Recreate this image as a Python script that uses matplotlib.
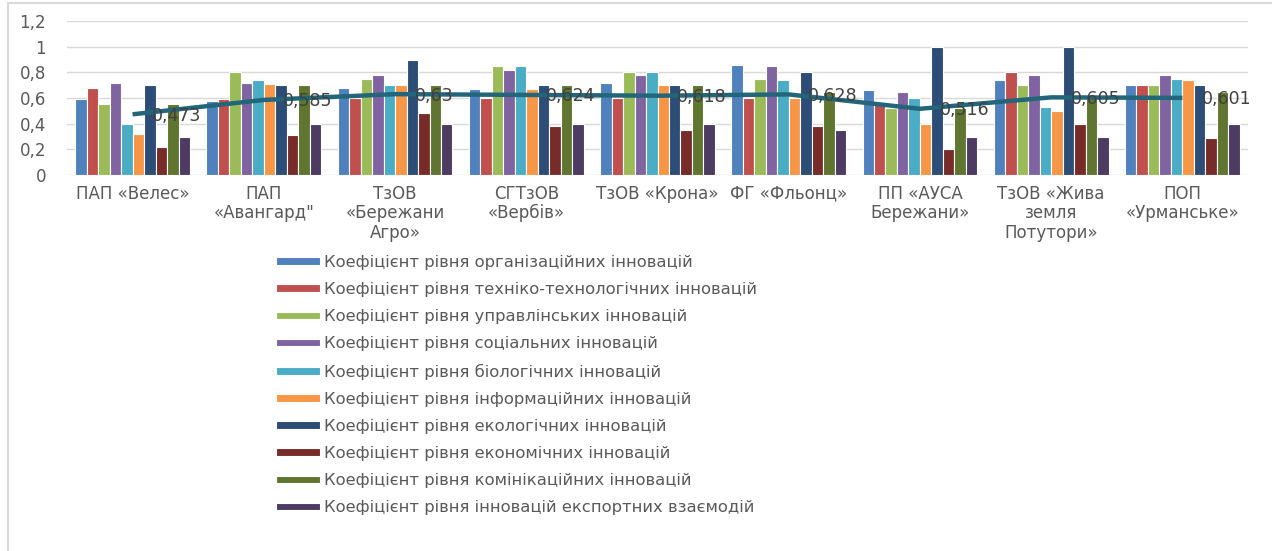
import numpy as np
import matplotlib.pyplot as plt
from matplotlib.patches import Rectangle
from matplotlib.ticker import FuncFormatter

companies = ['ПАП «Велес»', 'ПАП\n«Авангард"', 'ТзОВ\n«Бережани\nАгро»',
             'СГТзОВ\n«Вербів»', 'ТзОВ «Крона»', 'ФГ «Фльонц»',
             'ПП «АУСА\nБережани»', 'ТзОВ «Жива\nземля\nПотутори»', 'ПОП\n«Урманське»']

series_names = [
    'Коефіцієнт рівня організаційних інновацій',
    'Коефіцієнт рівня техніко-технологічних інновацій',
    'Коефіцієнт рівня управлінських інновацій',
    'Коефіцієнт рівня соціальних інновацій',
    'Коефіцієнт рівня біологічних інновацій',
    'Коефіцієнт рівня інформаційних інновацій',
    'Коефіцієнт рівня екологічних інновацій',
    'Коефіцієнт рівня економічних інновацій',
    'Коефіцієнт рівня комінікаційних інновацій',
    'Коефіцієнт рівня інновацій експортних взаємодій',
]

organiz = [0.59, 0.58, 0.68, 0.67, 0.72, 0.86, 0.66, 0.74, 0.70]
tekhn = [0.68, 0.59, 0.60, 0.60, 0.60, 0.60, 0.55, 0.80, 0.70]
upravl = [0.55, 0.80, 0.75, 0.85, 0.80, 0.75, 0.52, 0.70, 0.70]
sotsial = [0.72, 0.72, 0.78, 0.82, 0.78, 0.85, 0.65, 0.78, 0.78]
biolog = [0.40, 0.74, 0.70, 0.85, 0.80, 0.74, 0.60, 0.53, 0.75]
inform = [0.32, 0.71, 0.70, 0.67, 0.70, 0.60, 0.40, 0.50, 0.74]
ekolog = [0.70, 0.70, 0.90, 0.70, 0.70, 0.80, 1.00, 1.00, 0.70]
ekonom = [0.22, 0.31, 0.48, 0.38, 0.35, 0.38, 0.20, 0.40, 0.29]
komunik = [0.55, 0.70, 0.70, 0.70, 0.70, 0.65, 0.52, 0.60, 0.65]
eksport = [0.30, 0.40, 0.40, 0.40, 0.40, 0.35, 0.30, 0.30, 0.40]

integral = [0.473, 0.585, 0.63, 0.624, 0.618, 0.628, 0.516, 0.605, 0.601]

all_series = [organiz, tekhn, upravl, sotsial, biolog, inform, ekolog, ekonom, komunik, eksport]
colors = ['#4F81BD', '#C0504D', '#9BBB59', '#8064A2', '#4BACC6',
          '#F79646', '#2C4D75', '#772C2A', '#5F7530', '#4D3B62']
txt_col = '#595959'

fig = plt.figure(figsize=(12.72, 5.51), dpi=100)
ax = fig.add_axes([67/1272, 1 - 175/551, (1248 - 67)/1272, (175 - 21)/551])

x = np.arange(len(companies))
w = 0.0875
handles = []
for i, (vals, c) in enumerate(zip(all_series, colors)):
    b = ax.bar(x + (i - 4.5) * w, vals, w, color=c, edgecolor='white', linewidth=0.8,
               zorder=2, label=series_names[i])
    handles.append(b)

ax.plot(x, integral, color='#23667A', lw=3.2, zorder=3, solid_capstyle='butt')
for xi, v in zip(x, integral):
    ax.annotate('{:g}'.format(v).replace('.', ','), (xi, v), xytext=(14, -1),
                textcoords='offset points', va='center', ha='left',
                fontsize=12.5, color='#404040', zorder=4)

ax.set_xlim(-0.5, 8.5)
ax.set_ylim(0, 1.2)
ax.set_yticks(np.arange(0, 1.21, 0.2))
ax.yaxis.set_major_formatter(FuncFormatter(lambda v, p: '{:g}'.format(round(v, 1)).replace('.', ',')))
ax.set_xticks(x)
ax.set_xticklabels(companies, linespacing=1.1)
ax.tick_params(axis='both', length=0, labelsize=12, labelcolor=txt_col)
ax.tick_params(axis='x', pad=7)
ax.tick_params(axis='y', pad=15)
ax.grid(axis='y', color='#D9D9D9', lw=1, zorder=0)
for s in ax.spines.values():
    s.set_visible(False)

leg = fig.legend(handles=handles, loc='upper left', bbox_to_anchor=(276/1272, 1 - 255/551),
                 frameon=False, fontsize=11.8, labelcolor=txt_col, handlelength=2.7,
                 handleheight=0.35, handletextpad=0.25, labelspacing=0.74,
                 borderaxespad=0, borderpad=0)

fig.add_artist(Rectangle((8/1272, -0.05), 1.1, 1.05 - 3/551, transform=fig.transFigure,
                         fill=False, edgecolor='#D9D9D9', lw=1.5))

fig.savefig('out.png', dpi=100)
